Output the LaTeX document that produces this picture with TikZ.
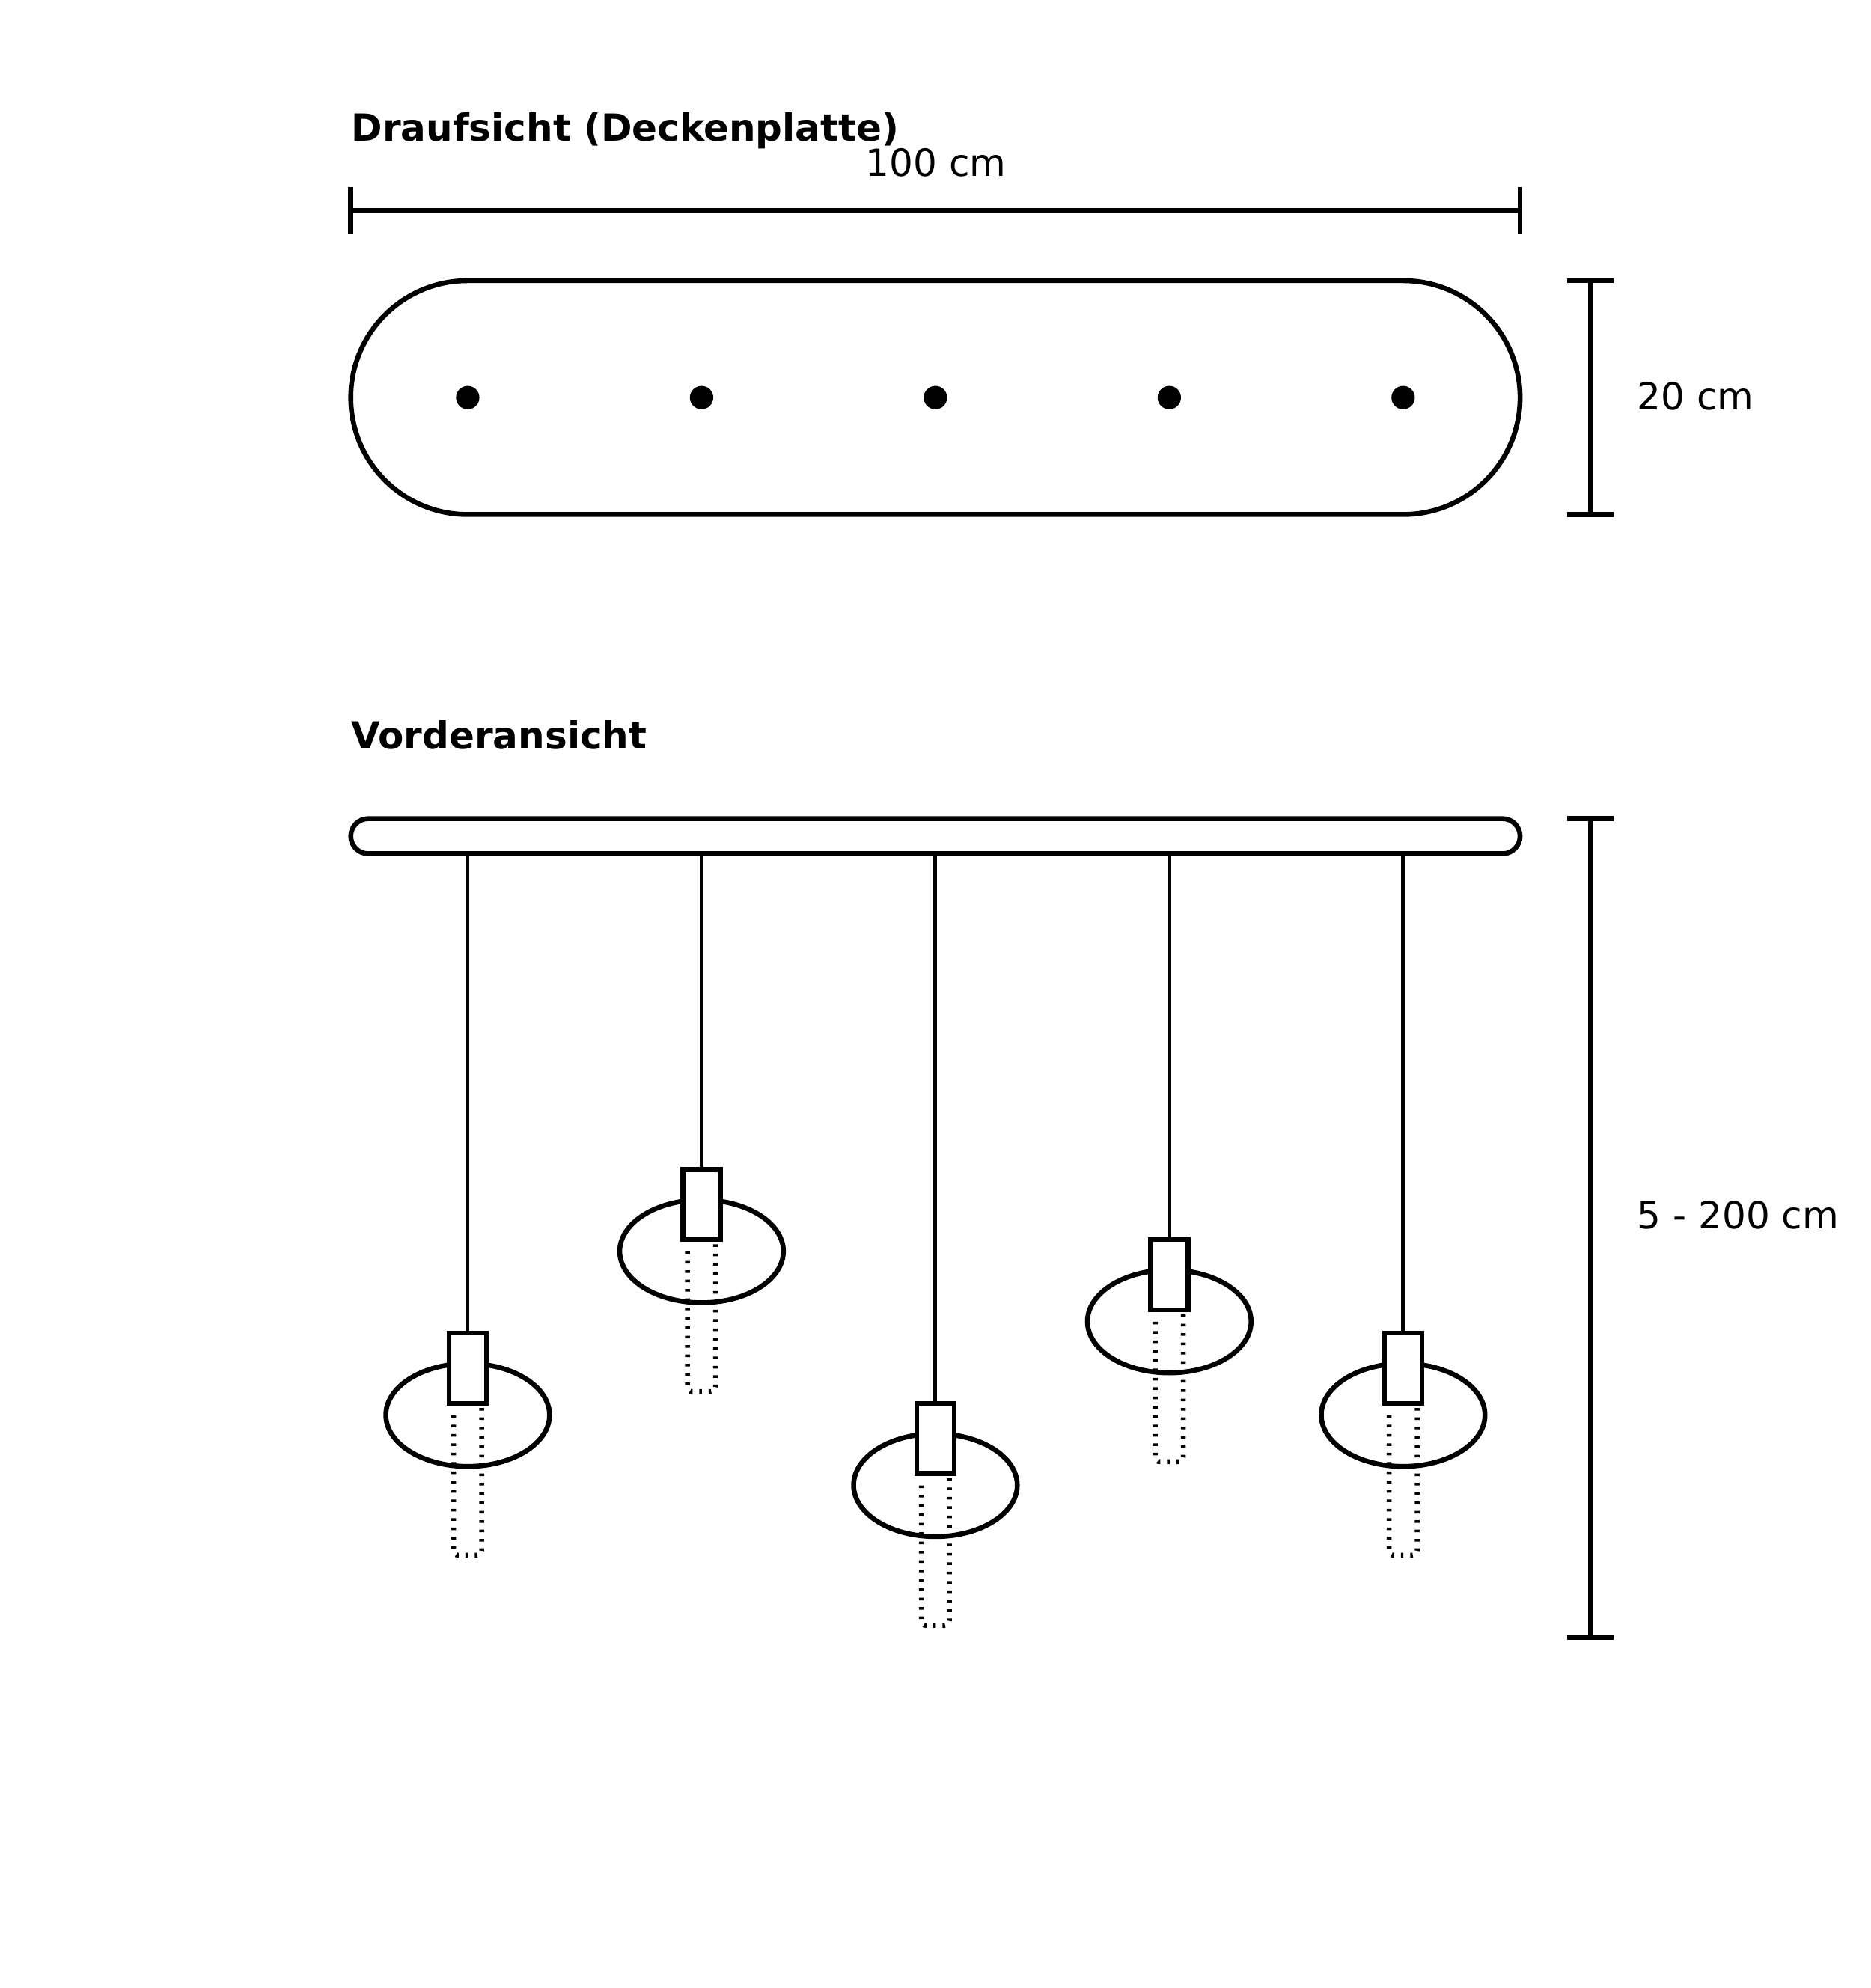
\documentclass[tikz,border=0pt]{standalone}
\usepackage{fontspec}
\setmainfont{DejaVu Sans}
\usetikzlibrary{shapes.geometric}
\tikzset{
txt/.style={inner sep=0pt, outer sep=0pt, font=\fontsize{16}{19}\selectfont},
head/.style={txt, anchor=base west, font=\fontsize{16}{19}\selectfont\bfseries},
dimline/.style={line width=2.1pt},
hole/.style={shape=circle, fill=black, minimum size=10pt, inner sep=0pt, outer sep=0pt},
plate/.style={shape=rectangle, draw=black, line width=2.1pt, inner sep=0pt, outer sep=0pt},
wire/.style={line width=1.6pt},
shade/.style={shape=ellipse, draw=black, line width=2.1pt, minimum width=70pt, minimum height=44pt, inner sep=0pt, outer sep=0pt},
sock/.style={shape=rectangle, draw=black, fill=white, line width=2.1pt, minimum width=16pt, minimum height=30pt, inner sep=0pt, outer sep=0pt},
bulb/.style={line width=2.1pt, dash pattern=on 1.1pt off 2.9pt, rounded corners=2pt}}

\begin{document}
\begin{tikzpicture}[x=1pt, y=-1pt]

    \useasboundingbox (0,0) rectangle (800,850);

    % top view
    \node[head] (T1) at (150.3,60.3) {Draufsicht (Deckenplatte)};
    \node[txt, anchor=base] (L1) at (400.2,75.3) {100 cm};

    \coordinate (W1) at (150,90);
    \coordinate (W2) at (650,90);
    \draw[dimline] (W1) -- (W2);
    \draw[dimline] (W1) ++(0,-10) -- ++(0,20);
    \draw[dimline] (W2) ++(0,-10) -- ++(0,20);

    \node[plate, minimum width=500pt, minimum height=100pt, rounded corners=50pt] (P) at (400,170) {};
    \node[hole] (H1) at (200,170) {};
    \node[hole] (H2) at (300,170) {};
    \node[hole] (H3) at (400,170) {};
    \node[hole] (H4) at (500,170) {};
    \node[hole] (H5) at (600,170) {};

    \coordinate (D1) at (680,120);
    \coordinate (D2) at (680,220);
    \draw[dimline] (D1) -- (D2);
    \draw[dimline] (D1) ++(-10,0) -- ++(20,0);
    \draw[dimline] (D2) ++(-10,0) -- ++(20,0);
    \node[txt, anchor=base west] (L2) at (700.2,175.3) {20 cm};

    % front view
    \node[head] (T2) at (150.3,320.3) {Vorderansicht};
    \node[plate, minimum width=500pt, minimum height=15pt, rounded corners=7.5pt] (B) at (400,357.5) {};

    \draw[bulb] (206,602) -- (206,665) -- (194,665) -- (194,603);
    \draw[bulb] (306,532) -- (306,595) -- (294,595) -- (294,533);
    \draw[bulb] (406,632) -- (406,695) -- (394,695) -- (394,633);
    \draw[bulb] (506,562) -- (506,625) -- (494,625) -- (494,563);
    \draw[bulb] (606,602) -- (606,665) -- (594,665) -- (594,603);

    \node[shade] (E1) at (200,605) {};
    \node[shade] (E2) at (300,535) {};
    \node[shade] (E3) at (400,635) {};
    \node[shade] (E4) at (500,565) {};
    \node[shade] (E5) at (600,605) {};

    \node[sock] (S1) at (200,585) {};
    \node[sock] (S2) at (300,515) {};
    \node[sock] (S3) at (400,615) {};
    \node[sock] (S4) at (500,545) {};
    \node[sock] (S5) at (600,585) {};

    \draw[wire] (B.south -| S1) -- (S1.north);
    \draw[wire] (B.south -| S2) -- (S2.north);
    \draw[wire] (B.south -| S3) -- (S3.north);
    \draw[wire] (B.south -| S4) -- (S4.north);
    \draw[wire] (B.south -| S5) -- (S5.north);

    \coordinate (D3) at (680,350);
    \coordinate (D4) at (680,700);
    \draw[dimline] (D3) -- (D4);
    \draw[dimline] (D3) ++(-10,0) -- ++(20,0);
    \draw[dimline] (D4) ++(-10,0) -- ++(20,0);
    \node[txt, anchor=base west] (L3) at (700.2,525.3) {5 - 200 cm};

\end{tikzpicture}
\end{document}
